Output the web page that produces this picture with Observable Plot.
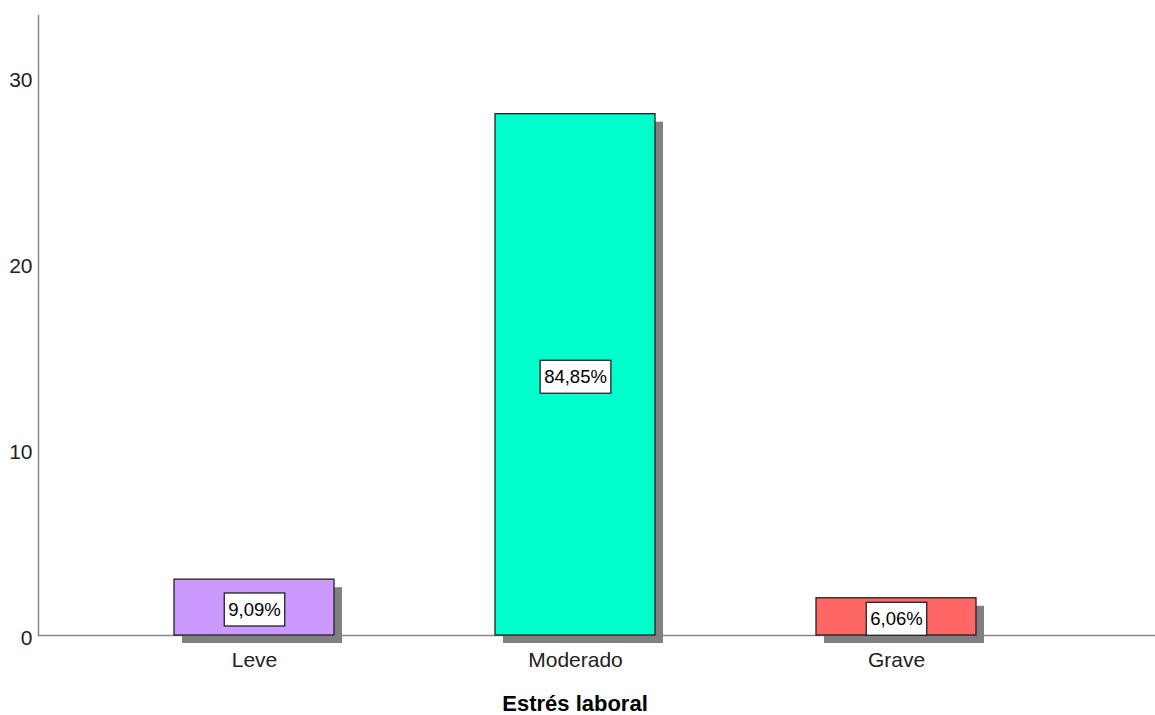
<!DOCTYPE html>
<html><head><meta charset="utf-8">
<script src="https://cdn.jsdelivr.net/npm/d3@7"></script>
<script src="https://cdn.jsdelivr.net/npm/@observablehq/plot@0.6"></script>
<style>html,body{margin:0;padding:0;background:#fff} svg{display:block}</style>
</head><body><div id="chart"></div>
<script>
const categories = ["Leve", "Moderado", "Grave"];
const counts = [3, 28, 2];
const percentLabels = ["9,09%", "84,85%", "6,06%"];
const colors = ["#CC99FF", "#00FFCC", "#FF6666"];
const yTicks = [0, 10, 20, 30];
const axisTitle = "Estrés laboral";

const data = categories.map((c, i) => ({cat: c, n: counts[i], label: percentLabels[i]}));

const chart = Plot.plot({
  width: 1155, height: 715,
  marginTop: 15, marginBottom: 80, marginLeft: 38, marginRight: 0,
  style: {fontFamily: "Arial, 'Liberation Sans', sans-serif", background: "#fff", color: "#222"},
  x: {domain: categories, paddingInner: 0.503, paddingOuter: 0.486, align: 0.431, axis: null},
  y: {domain: [0, 33.3], axis: null},
  color: {domain: categories, range: colors},
  marks: [
    Plot.frame({anchor: "left", stroke: "#888", strokeWidth: 1.5}),
    Plot.ruleY([0], {stroke: "#888", strokeWidth: 1.5}),
    Plot.axisY({ticks: yTicks, tickSize: 0, tickPadding: 6, fontSize: 21, dy: 3, label: null}),
    Plot.axisX({tickSize: 0, tickPadding: 17, fontSize: 21, label: null}),
    Plot.barY(data, {x: "cat", y: "n", fill: "#808080", dx: 8, dy: 8}),
    Plot.barY(data, {x: "cat", y: "n", fill: "cat", stroke: "#222", strokeWidth: 1.3}),
    Plot.text(data, {x: "cat", y: d => d.n / 2, text: "label", fontSize: 18.5, fill: "#000", dy: 2.5}),
    Plot.text([axisTitle], {frameAnchor: "bottom", lineAnchor: "middle", dy: 68, dx: -22, fontSize: 22, fontWeight: "bold", fill: "#000"})
  ]
});
document.getElementById("chart").appendChild(chart);

// white boxes behind percentage labels
chart.querySelectorAll("text").forEach(t => {
  if (!percentLabels.includes(t.textContent)) return;
  const b = t.getBBox();
  const tr = t.getAttribute("transform");
  const r = document.createElementNS("http://www.w3.org/2000/svg", "rect");
  const padX = 4, padY = 6;
  r.setAttribute("x", b.x - padX);
  r.setAttribute("y", b.y - padY);
  r.setAttribute("width", b.width + 2 * padX);
  r.setAttribute("height", b.height + 2 * padY);
  r.setAttribute("fill", "#fff");
  r.setAttribute("stroke", "#222");
  r.setAttribute("stroke-width", "1.3");
  if (tr) r.setAttribute("transform", tr);
  t.parentNode.insertBefore(r, t);
});
</script>
</body></html>
